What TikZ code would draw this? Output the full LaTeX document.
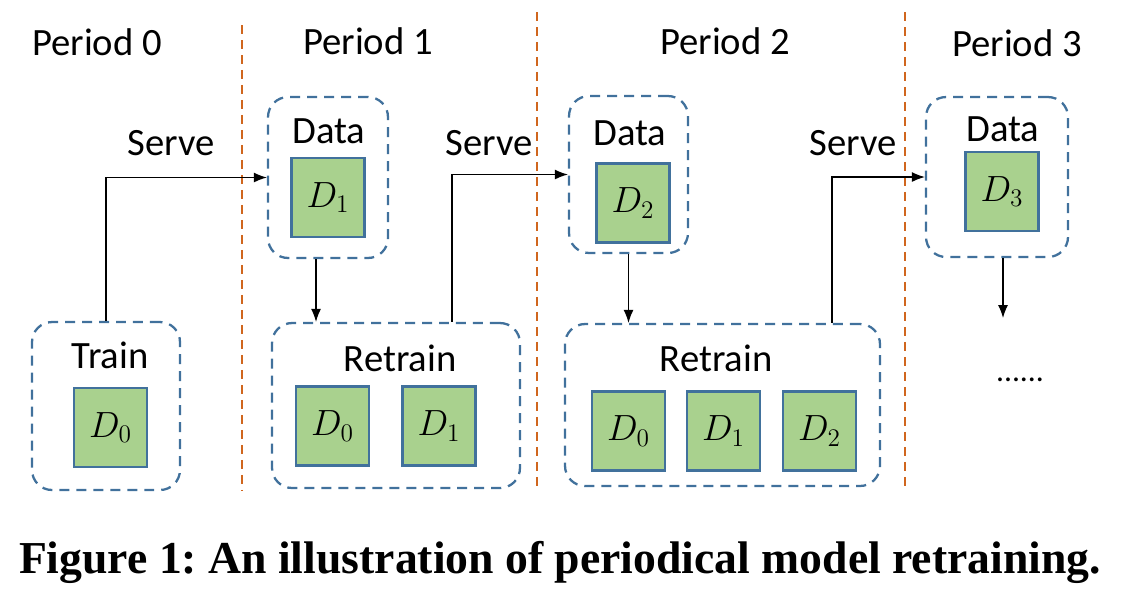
\documentclass[tikz,border=0pt]{standalone}
\usepackage[no-math]{fontspec}
\setmainfont{Carlito}
\newfontfamily\capfont{Liberation Serif}
\usepackage{amsmath}
\usepackage{tikz}
\usetikzlibrary{arrows.meta,positioning,calc}
\definecolor{boxblue}{HTML}{41719C}
\definecolor{dgreen}{HTML}{A9D18E}
\definecolor{sepor}{HTML}{D0661E}
\tikzstyle{line} = [draw, line width=0.7pt, -{Latex[length=0.26cm,width=0.2cm]}]
\tikzstyle{group} = [draw=boxblue, line width=1.3pt, dash pattern=on 0.2cm off 0.14cm, rounded corners=0.4cm]
\tikzstyle{dblock} = [draw=boxblue, fill=dgreen, line width=1.2pt, minimum width=1.46cm, minimum height=1.58cm, inner sep=0pt, font=\fontsize{22}{26}\selectfont]
\tikzstyle{lbl} = [font=\fontsize{22}{26}\selectfont, inner sep=0pt]

\begin{document}
\begin{tikzpicture}[x=0.02cm, y=-0.02cm, node distance = 1.0cm, auto]
    \useasboundingbox (0,0) rectangle (1124,600);

    % period separators
    \foreach \x/\ytop in {242/25, 537/12, 905/12}
        \draw [sepor, line width=1.3pt, dash pattern=on 0.18cm off 0.12cm] (\x,\ytop) -- (\x,490);

    \node [lbl] (p0) at (97,42) {Period 0};
    \node [lbl] (p1) at (368,41) {Period 1};
    \node [lbl] (p2) at (725,41) {Period 2};
    \node [lbl] (p3) at (1017,43) {Period 3};

    % period 0
    \node [group, minimum width=2.96cm, minimum height=3.36cm] (train) at (106,406) {};
    \node [lbl] (trainlbl) at (110,355) {Train};
    \node [dblock] (t0) at (110.5,427.5) {$D_0$};

    % period 1
    \node [group, minimum width=2.4cm, minimum height=3.22cm] (data1) at (328,177.5) {};
    \node [lbl] (data1lbl) at (329,131) {Data};
    \node [dblock] (d1) at (328,197.5) {$D_1$};
    \node [group, minimum width=4.96cm, minimum height=3.3cm] (retrain1) at (396,405.5) {};
    \node [lbl] (retrain1lbl) at (400,358) {Retrain};
    \node [dblock] (r1a) at (332.5,426) {$D_0$};
    \node [dblock] (r1b) at (439,426) {$D_1$};

    % period 2
    \node [group, minimum width=2.38cm, minimum height=3.14cm] (data2) at (628.5,174.5) {};
    \node [lbl] (data2lbl) at (630,133) {Data};
    \node [dblock] (d2) at (633,203) {$D_2$};
    \node [group, minimum width=6.3cm, minimum height=3.24cm] (retrain2) at (722.5,405) {};
    \node [lbl] (retrain2lbl) at (716,358) {Retrain};
    \node [dblock] (r2a) at (628.5,431) {$D_0$};
    \node [dblock] (r2b) at (723.5,431) {$D_1$};
    \node [dblock] (r2c) at (819.5,431) {$D_2$};

    % period 3
    \node [group, minimum width=2.84cm, minimum height=3.2cm] (data3) at (997,177) {};
    \node [lbl] (data3lbl) at (1003,129) {Data};
    \node [dblock] (d3) at (1002,191.5) {$D_3$};
    \node [lbl, font=\fontsize{18}{22}\selectfont] (more) at (1020,380) {......};
    \coordinate (next) at (1003,318);

    \node [lbl] (serve1) at (171,143) {Serve};
    \node [lbl] (serve2) at (489,143) {Serve};
    \node [lbl] (serve3) at (853,143) {Serve};

    \path [line] (train.north) |- (data1.west);
    \path [line] ([xshift=-0.24cm]data1.south) -- ([xshift=-0.24cm]data1.south |- retrain1.north);
    \path [line] ([xshift=1.12cm]retrain1.north) |- (data2.west);
    \path [line] (data2.south) -- (data2.south |- retrain2.north);
    \path [line] ([xshift=2.19cm]retrain2.north) |- (data3.west);
    \path [line] (data3.south -| next) -- (next);

    \node [font=\capfont\bfseries\frenchspacing\fontsize{26}{30}\selectfont, inner sep=0pt] (caption) at (560,562) {Figure 1: An illustration of periodical model retraining.};
\end{tikzpicture}
\end{document}
